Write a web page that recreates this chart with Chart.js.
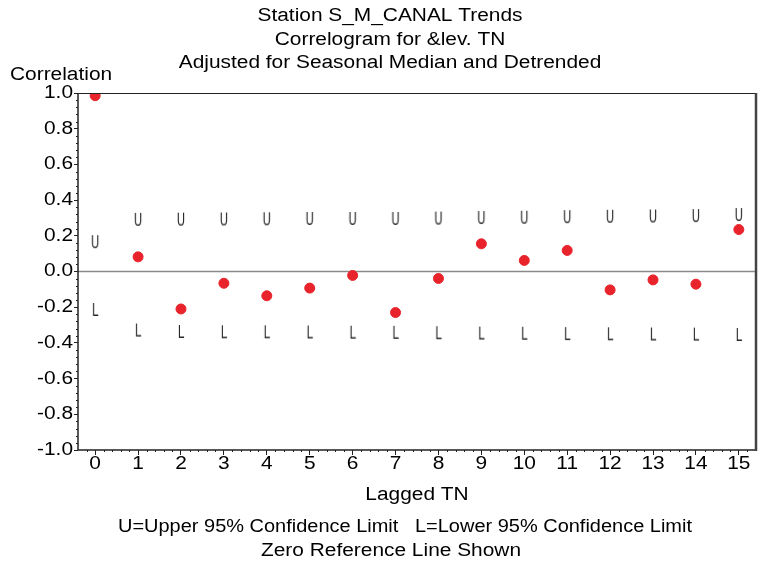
<!DOCTYPE html>
<html>
<head>
<meta charset="utf-8">
<script src="https://cdn.jsdelivr.net/npm/chart.js@4.4.1/dist/chart.umd.min.js"></script>
<style>
  html, body { margin: 0; padding: 0; background: #fff; }
  #wrap { width: 767px; height: 563px; position: relative; }
</style>
</head>
<body>
<div id="wrap"><canvas id="acf"></canvas></div>
<script>
// lags on the x axis
const lags = [0, 1, 2, 3, 4, 5, 6, 7, 8, 9, 10, 11, 12, 13, 14, 15];
// autocorrelation (red dots)
const corr = [0.985, 0.082, -0.21, -0.066, -0.136, -0.093, -0.022, -0.23, -0.039, 0.155, 0.062, 0.118, -0.103, -0.047, -0.071, 0.235];
// upper / lower 95% confidence limits (U and L symbols)
const upper = [0.17, 0.295, 0.296, 0.297, 0.298, 0.30, 0.30, 0.30, 0.302, 0.305, 0.307, 0.31, 0.312, 0.314, 0.316, 0.322];
const lower = [-0.21, -0.325, -0.333, -0.335, -0.335, -0.336, -0.337, -0.338, -0.34, -0.342, -0.343, -0.345, -0.346, -0.347, -0.348, -0.35];
const yTicks = [-1.0, -0.8, -0.6, -0.4, -0.2, 0.0, 0.2, 0.4, 0.6, 0.8, 1.0];

const titleLines = ['Station S_M_CANAL Trends', 'Correlogram for &lev. TN', 'Adjusted for Seasonal Median and Detrended'];
const footLines = ['U=Upper 95% Confidence Limit   L=Lower 95% Confidence Limit', 'Zero Reference Line Shown'];

const FONT = '18px "Liberation Sans", Arial, sans-serif';
const STRETCH = 1.16; // the reference font is a little wider than Arial

// small canvas used as a point style: a letter symbol
function letterSymbol(ch) {
    const c = document.createElement('canvas');
    c.width = 12;
    c.height = 20;
    const g = c.getContext('2d');
    g.fillStyle = '#2a2a2a';
    g.font = '17px "DejaVu Sans Condensed", "Liberation Sans Narrow", sans-serif';
    g.textAlign = 'center';
    g.textBaseline = 'middle';
    g.save();
    g.translate(6, 12.5);
    g.scale(0.75, 1);
    g.fillText(ch, 0, 0);
    g.restore();
    return c;
}

// wide text helper
function wideText(ctx, text, x, y, align, stretch = STRETCH) {
    ctx.save();
    ctx.translate(x, y);
    ctx.scale(stretch, 1);
    ctx.textAlign = align;
    ctx.fillText(text, 0, 0);
    ctx.restore();
}

// frame, zero line, minor ticks and all the texts
const decor = {
    id: 'decor',
    beforeDatasetsDraw(chart) {
        const { ctx, chartArea: a, scales: { y } } = chart;
        ctx.save();
        // zero reference line
        const y0 = y.getPixelForValue(0);
        ctx.strokeStyle = '#8a8a8a';
        ctx.lineWidth = 1.3;
        ctx.beginPath();
        ctx.moveTo(a.left, y0);
        ctx.lineTo(a.right, y0);
        ctx.stroke();
        ctx.restore();
    },
    afterDraw(chart) {
        const { ctx, chartArea: a, scales: { x, y } } = chart;
        ctx.save();
        // frame
        ctx.strokeStyle = '#222';
        ctx.lineWidth = 1;
        ctx.beginPath();
        ctx.moveTo(a.left, a.top + 0.5);
        ctx.lineTo(a.right, a.top + 0.5);
        ctx.stroke();
        ctx.lineWidth = 1.5;
        ctx.beginPath();
        ctx.moveTo(a.left, a.top);
        ctx.lineTo(a.left, a.bottom);
        ctx.lineTo(a.right, a.bottom);
        ctx.stroke();
        ctx.strokeStyle = '#444';
        ctx.lineWidth = 2.5;
        ctx.beginPath();
        ctx.moveTo(a.right, a.top);
        ctx.lineTo(a.right, a.bottom + 1);
        ctx.stroke();

        // minor ticks
        ctx.strokeStyle = '#222';
        ctx.lineWidth = 1;
        for (let k = -25; k <= 25; k++) {
            if (k % 5 === 0) continue;
            const py = Math.round(y.getPixelForValue(k * 0.04)) + 0.5;
            ctx.beginPath();
            ctx.moveTo(a.left - 2, py);
            ctx.lineTo(a.left, py);
            ctx.stroke();
        }
        for (let k = -1; k <= 76; k++) {
            if (k % 5 === 0) continue;
            const v = k * 0.2;
            if (v < x.min || v > x.max) continue;
            const px = Math.round(x.getPixelForValue(v)) + 0.5;
            ctx.beginPath();
            ctx.moveTo(px, a.bottom);
            ctx.lineTo(px, a.bottom + 2);
            ctx.stroke();
        }

        // texts
        ctx.fillStyle = '#000';
        ctx.font = FONT;
        ctx.textBaseline = 'alphabetic';
        titleLines.forEach((t, i) => wideText(ctx, t, 390, 21 + i * 23.5, 'center'));
        wideText(ctx, 'Correlation', 10, 80, 'left');
        wideText(ctx, 'Lagged TN', (a.left + a.right) / 2, 500, 'center');
        // first footer line squeezed to the reference width
        const w0 = ctx.measureText(footLines[0]).width;
        wideText(ctx, footLines[0], 405, 532, 'center', 574 / w0);
        wideText(ctx, footLines[1], 391, 556, 'center');

        // tick labels
        ctx.textBaseline = 'middle';
        y.ticks.forEach(t => {
            wideText(ctx, t.value.toFixed(1), a.left - 5, y.getPixelForValue(t.value), 'right');
        });
        x.ticks.forEach(t => {
            wideText(ctx, String(t.value), x.getPixelForValue(t.value), a.bottom + 14, 'center');
        });
        ctx.restore();
    }
};

const ctx = document.getElementById('acf');
const myChart = new Chart(ctx, {
    type: 'scatter',
    data: {
        datasets: [
            {
                label: 'Correlation',
                data: lags.map((l, i) => ({ x: l, y: corr[i] })),
                backgroundColor: '#e8232b',
                borderColor: '#e8232b',
                pointRadius: 5,
                pointHoverRadius: 5
            },
            {
                label: 'Upper',
                data: lags.map((l, i) => ({ x: l, y: upper[i] })),
                pointStyle: letterSymbol('U'),
                pointRadius: 6
            },
            {
                label: 'Lower',
                data: lags.map((l, i) => ({ x: l, y: lower[i] })),
                pointStyle: letterSymbol('L'),
                pointRadius: 6
            }
        ]
    },
    options: {
        responsive: true,
        maintainAspectRatio: false,
        animation: false,
        layout: { padding: { top: 93, right: 11, left: 0, bottom: 0 } },
        plugins: {
            legend: { display: false },
            tooltip: { enabled: false },
            title: { display: false }
        },
        scales: {
            x: {
                type: 'linear',
                min: -0.4,
                max: 15.4,
                afterBuildTicks: s => { s.ticks = lags.map(v => ({ value: v })); },
                afterFit: s => { s.height = 113; },
                border: { display: false },
                grid: { drawOnChartArea: false, tickLength: 5, color: '#222' },
                ticks: { display: false }
            },
            y: {
                min: -1.0,
                max: 1.0,
                afterBuildTicks: s => { s.ticks = yTicks.map(v => ({ value: v })); },
                afterFit: s => { s.width = 78; },
                border: { display: false },
                grid: { drawOnChartArea: false, tickLength: 4, color: '#222' },
                ticks: { display: false }
            }
        }
    },
    plugins: [decor]
});
</script>
</body>
</html>
